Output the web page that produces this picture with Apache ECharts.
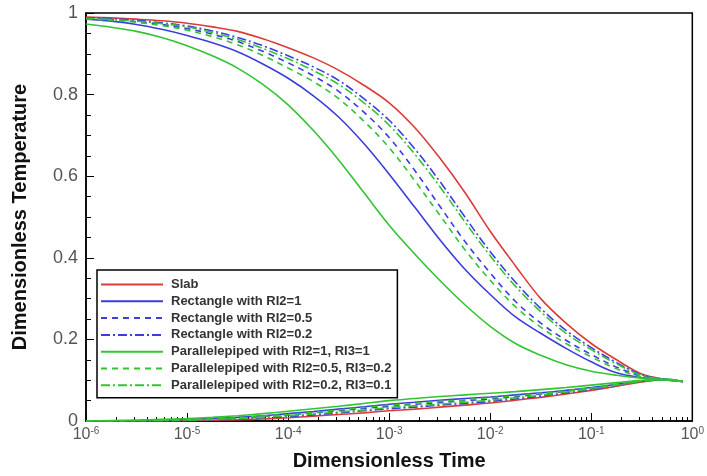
<!DOCTYPE html>
<html>
<head>
<meta charset="utf-8">
<script src="https://cdn.jsdelivr.net/npm/echarts@6/dist/echarts.min.js"></script>
<style>html,body{margin:0;padding:0;background:#fff}#c{width:707px;height:476px}</style>
</head>
<body>
<div id="c"></div>
<script>
// sample times (dimensionless), quarter-decade steps
var times = [1e-6, 1.78e-6, 3.16e-6, 5.62e-6, 1e-5, 1.78e-5, 3.16e-5, 5.62e-5, 1e-4, 1.78e-4, 3.16e-4, 5.62e-4,
  1e-3, 1.78e-3, 3.16e-3, 5.62e-3, 1e-2, 1.78e-2, 3.16e-2, 5.62e-2, 0.1, 0.178, 0.316, 0.562, 0.8];
var seriesNames = ['Slab', 'Rectangle with RI2=1', 'Rectangle with RI2=0.5', 'Rectangle with RI2=0.2',
  'Parallelepiped with RI2=1, RI3=1', 'Parallelepiped with RI2=0.5, RI3=0.2', 'Parallelepiped with RI2=0.2, RI3=0.1'];
// decreasing (centre) branches
var slabDown  = [0.990,0.988,0.985,0.981,0.975,0.966,0.955,0.937,0.915,0.890,0.860,0.823,0.780,0.720,0.645,0.560,0.465,0.380,0.300,0.240,0.190,0.150,0.115,0.101,0.097];
var rect1Down = [0.985,0.980,0.972,0.960,0.945,0.927,0.905,0.875,0.840,0.797,0.745,0.680,0.605,0.525,0.445,0.372,0.310,0.255,0.215,0.178,0.145,0.118,0.106,0.101,0.097];
var rect05Down= [0.987,0.984,0.979,0.972,0.962,0.948,0.930,0.906,0.878,0.846,0.808,0.757,0.695,0.615,0.527,0.440,0.363,0.293,0.240,0.198,0.163,0.132,0.110,0.101,0.097];
var rect02Down= [0.988,0.986,0.982,0.976,0.968,0.956,0.940,0.920,0.895,0.868,0.835,0.790,0.737,0.668,0.588,0.500,0.415,0.340,0.276,0.222,0.180,0.143,0.113,0.101,0.097];
var par1Down  = [0.973,0.965,0.955,0.940,0.920,0.895,0.865,0.825,0.775,0.712,0.640,0.560,0.480,0.410,0.345,0.285,0.232,0.190,0.161,0.138,0.122,0.112,0.105,0.100,0.097];
var par05Down = [0.986,0.982,0.977,0.969,0.958,0.942,0.922,0.896,0.865,0.832,0.790,0.735,0.670,0.590,0.505,0.420,0.345,0.280,0.230,0.190,0.157,0.128,0.108,0.100,0.097];
var par02Down = [0.987,0.984,0.980,0.974,0.966,0.952,0.935,0.913,0.888,0.859,0.825,0.780,0.725,0.655,0.575,0.488,0.405,0.330,0.268,0.215,0.175,0.140,0.112,0.101,0.097];
// increasing (surface) branches
var slabUp    = [0,0,0,0,0.001,0.002,0.003,0.005,0.008,0.012,0.016,0.020,0.025,0.029,0.034,0.039,0.044,0.051,0.058,0.066,0.075,0.085,0.096,0.101,0.097];
var rect1Up   = [0,0,0.001,0.002,0.004,0.006,0.009,0.013,0.018,0.023,0.029,0.035,0.041,0.046,0.051,0.055,0.059,0.064,0.069,0.075,0.082,0.090,0.098,0.102,0.097];
var rect05Up  = [0,0,0.001,0.002,0.003,0.005,0.007,0.011,0.015,0.020,0.025,0.031,0.036,0.041,0.045,0.050,0.054,0.060,0.066,0.073,0.080,0.089,0.098,0.101,0.097];
var rect02Up  = [0,0,0,0.001,0.002,0.003,0.005,0.008,0.011,0.015,0.020,0.025,0.030,0.034,0.039,0.043,0.048,0.054,0.061,0.069,0.077,0.087,0.097,0.101,0.097];
var par1Up    = [0,0.001,0.002,0.004,0.006,0.009,0.013,0.018,0.024,0.030,0.036,0.043,0.050,0.055,0.060,0.064,0.068,0.072,0.077,0.082,0.088,0.094,0.100,0.102,0.097];
var par05Up   = [0,0,0.001,0.002,0.003,0.005,0.008,0.012,0.016,0.021,0.027,0.033,0.039,0.043,0.048,0.052,0.057,0.062,0.068,0.074,0.081,0.090,0.098,0.102,0.097];
var par02Up   = [0,0,0.001,0.001,0.002,0.004,0.006,0.009,0.013,0.017,0.022,0.027,0.033,0.037,0.041,0.046,0.051,0.057,0.063,0.071,0.079,0.088,0.097,0.101,0.097];
// axis ticks
var xMajorTicks = [1e-6, 1e-5, 1e-4, 1e-3, 1e-2, 1e-1, 1];
var yTicks = [0, 0.2, 0.4, 0.6, 0.8, 1];

var RED = '#dd3a3a', BLUE = '#3d3ddf', GREEN = '#33c433';
var DASH = [6, 5], DASHDOT = [9, 3, 2, 3];
var styles = [
  {c: RED, t: 'solid'}, {c: BLUE, t: 'solid'}, {c: BLUE, t: DASH}, {c: BLUE, t: DASHDOT},
  {c: GREEN, t: 'solid'}, {c: GREEN, t: DASH}, {c: GREEN, t: DASHDOT}
];
var downs = [slabDown, rect1Down, rect05Down, rect02Down, par1Down, par05Down, par02Down];
var ups = [slabUp, rect1Up, rect05Up, rect02Up, par1Up, par05Up, par02Up];

var xMinor = [];
for (var d = -6; d < 0; d++) {
  for (var k = 2; k <= 9; k++) xMinor.push(k * Math.pow(10, d));
}

function mk(name, arr, st) {
  return {
    name: name, type: 'line', xAxisIndex: 0, yAxisIndex: 0,
    data: times.map(function (t, i) { return [t, arr[i]]; }),
    smooth: 0.35, symbol: 'none', showSymbol: false, silent: true,
    lineStyle: {color: st.c, width: 1.6, type: st.t},
    itemStyle: {color: st.c}
  };
}
var series = [];
for (var i = 0; i < 7; i++) {
  series.push(mk(seriesNames[i], downs[i], styles[i]));
  series.push(mk(seriesNames[i], ups[i], styles[i]));
}

var chart = echarts.init(document.getElementById('c'), null, {renderer: 'canvas'});
chart.setOption({
  animation: false,
  backgroundColor: '#fff',
  grid: {left: 86, right: 9, top: 13, bottom: 51, show: true, borderColor: '#000', borderWidth: 1.5, backgroundColor: 'transparent'},
  legend: {
    data: seriesNames, orient: 'vertical', left: 97, top: 270,
    padding: [8, 6, 6, 3],
    itemWidth: 62, itemHeight: 12, itemGap: 3.8,
    borderColor: '#000', borderWidth: 1.5, backgroundColor: '#fff',
    itemStyle: {opacity: 0, color: 'transparent', borderWidth: 0},
    textStyle: {fontFamily: 'Liberation Sans', fontWeight: 'bold', fontSize: 13, color: '#333', lineHeight: 12, padding: [0, 0, 0, 3]},
    selectedMode: false
  },
  xAxis: [{
    type: 'log', min: 1e-6, max: 1, logBase: 10,
    name: 'Dimensionless Time', nameLocation: 'middle', nameGap: 30,
    nameTextStyle: {fontFamily: 'Liberation Sans', fontWeight: 'bold', fontSize: 20, color: '#111'},
    axisLine: {show: true, lineStyle: {color: '#000', width: 1.5}},
    axisTick: {show: true, inside: true, length: 8, customValues: xMajorTicks, lineStyle: {color: '#000', width: 1}},
    axisLabel: {
      customValues: xMajorTicks, margin: 5, color: '#555',
      formatter: function (v) { return '{b|10}{s|' + Math.round(Math.log10(v)) + '}'; },
      rich: {
        b: {fontFamily: 'Liberation Sans', fontSize: 16, color: '#555', lineHeight: 18},
        s: {fontFamily: 'Liberation Sans', fontSize: 10, color: '#555', lineHeight: 10, verticalAlign: 'top', padding: [0, 0, 6, 0]}
      }
    },
    splitLine: {show: false}, minorTick: {show: false}
  }, {
    type: 'log', min: 1e-6, max: 1, logBase: 10, position: 'bottom',
    axisLine: {show: false},
    axisTick: {show: true, inside: true, length: 4, customValues: xMinor, lineStyle: {color: '#000', width: 1}},
    axisLabel: {show: false}, splitLine: {show: false}
  }],
  yAxis: [{
    type: 'value', min: 0, max: 1, interval: 0.2,
    name: 'Dimensionless Temperature', nameLocation: 'middle', nameGap: 56,
    nameTextStyle: {fontFamily: 'Liberation Sans', fontWeight: 'bold', fontSize: 20, color: '#111'},
    axisLine: {show: true, lineStyle: {color: '#000', width: 1.5}},
    axisTick: {show: true, inside: true, length: 8, lineStyle: {color: '#000', width: 1}},
    minorTick: {show: true, splitNumber: 4, length: 5, lineStyle: {color: '#000', width: 1}},
    axisLabel: {
      margin: 8, color: '#555', fontFamily: 'Liberation Sans', fontSize: 18,
      formatter: function (v) { return yTicks.indexOf(Math.round(v * 10) / 10) >= 0 ? String(Math.round(v * 10) / 10) : ''; }
    },
    splitLine: {show: false}, minorSplitLine: {show: false}
  }],
  series: series
});
</script>
</body>
</html>
